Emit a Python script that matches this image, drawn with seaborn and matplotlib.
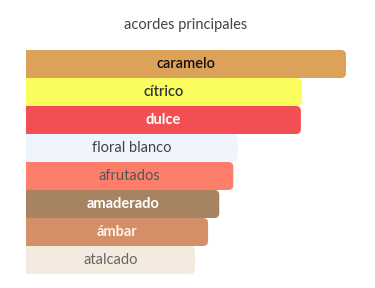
import matplotlib
matplotlib.use('Agg')
import matplotlib.pyplot as plt
from matplotlib.patches import FancyBboxPatch
import seaborn as sns
import pandas as pd

# datos: acordes y su intensidad relativa (%)
acordes = ['caramelo', 'cítrico', 'dulce', 'floral blanco', 'afrutados',
           'amaderado', 'ámbar', 'atalcado']
valores = [100, 86.2, 85.9, 66.2, 64.8, 60.4, 56.9, 52.8]
colores = ['#dda25a', '#fafd5e', '#f24f55', '#f0f4fc', '#fd7f6b',
           '#a68462', '#d48e68', '#f4eadf']
color_texto = ['#111111', '#333333', '#ffffff', '#444444', '#555555',
               '#ffffff', '#fff3e8', '#666666']
peso_texto = ['semibold', 'semibold', 'bold', 'normal', 'normal',
              'bold', 'bold', 'normal']

df = pd.DataFrame({'acorde': acordes, 'valor': valores})

sns.set_theme(style='white')
plt.rcParams['font.family'] = ['Lato', 'DejaVu Sans']

fig = plt.figure(figsize=(3.75, 2.88), dpi=100)
ax = fig.add_axes([26 / 375, 14 / 288, 320 / 375, 224 / 288])

sns.barplot(data=df, x='valor', y='acorde', hue='acorde', palette=colores,
            width=1.0, legend=False, ax=ax, saturation=1)
ax.set_xlim(0, 100)
ax.set_ylim(len(acordes) - 0.5, -0.5)

# esquinas redondeadas a la derecha
px_x = 100 / 320
px_y = 1 / 28
radio = 5 * px_x
for bar in list(ax.patches):
    x, y = bar.get_x(), bar.get_y()
    w, h = bar.get_width(), bar.get_height()
    fc = bar.get_facecolor()
    bar.remove()
    p = FancyBboxPatch((x - 10, y), w + 10, h,
                       boxstyle=f'round,pad=0,rounding_size={radio}',
                       mutation_aspect=px_y / px_x, fc=fc, ec='none', lw=0)
    ax.add_patch(p)

for i, (v, c, pw) in enumerate(zip(valores, color_texto, peso_texto)):
    ax.text(v / 2, i, acordes[i], ha='center', va='center', fontsize=10.5,
            color=c, fontweight=pw)

ax.set_title('acordes principales', fontsize=10.5, color='#444444', pad=15)
ax.set_xlabel('')
ax.set_ylabel('')
ax.set_xticks([])
ax.set_yticks([])
sns.despine(ax=ax, left=True, bottom=True)

fig.savefig('out.png', dpi=100)
